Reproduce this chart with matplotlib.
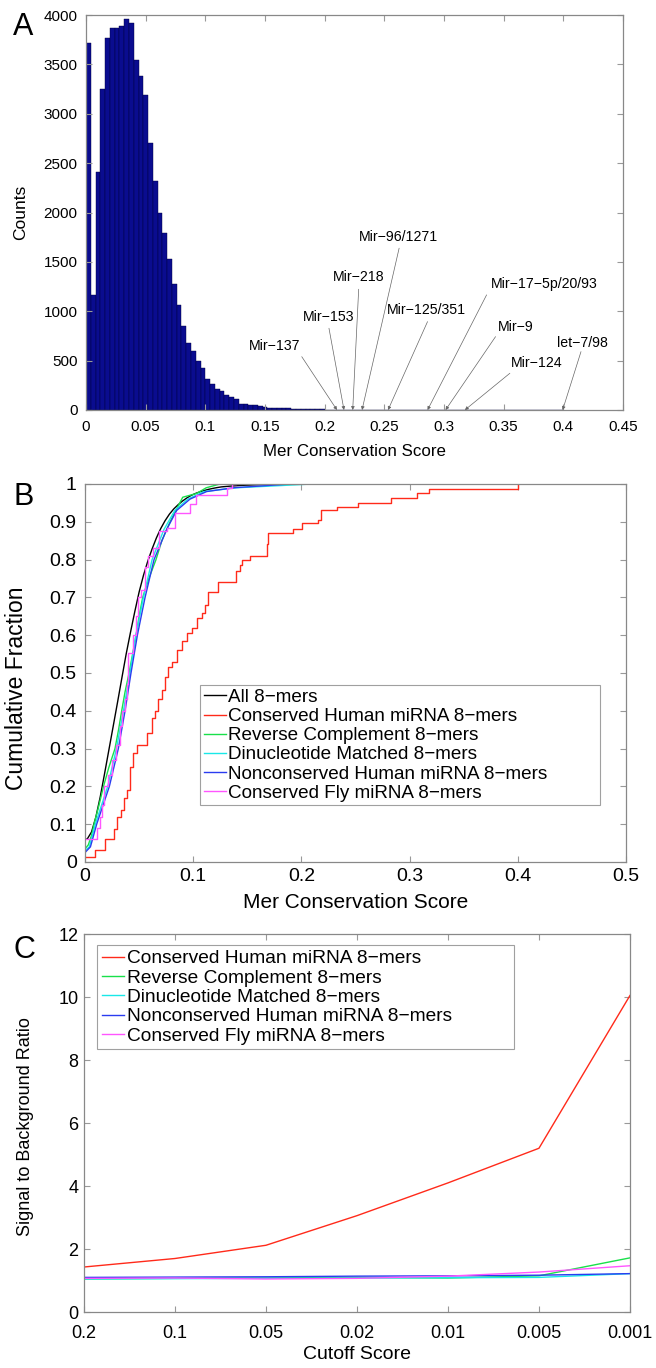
import numpy as np
import matplotlib
matplotlib.use("Agg")
import matplotlib.pyplot as plt

plt.rcParams['font.family'] = ['Liberation Sans', 'DejaVu Sans']

# ---------------- data ----------------
# A: histogram of mer conservation scores (100 bins of width 0.004 over 0-0.4)
hist_counts = [3720, 1160, 2410, 3250, 3770, 3870, 3865, 3890, 3960, 3920,
               3545, 3385, 3190, 2700, 2320, 2000, 1795, 1525, 1272, 1060,
               850, 680, 595, 500, 425, 312, 264, 212, 197, 153,
               136, 115, 62, 60, 47, 47, 41, 28, 24, 24,
               20, 17, 16, 13, 10, 9, 8, 7, 6, 5,
               4, 3, 3, 2, 2, 1, 1, 1, 1, 1,
               1, 0, 1, 1, 0, 1, 0, 0, 1, 0,
               0, 1, 0, 0, 0, 1, 0, 0, 0, 0,
               0, 0, 0, 0, 0, 0, 0, 0, 0, 0,
               0, 0, 0, 0, 0, 0, 0, 0, 0, 1]
bin_width = 0.004

mir_labels = ['Mir\u2212137', 'Mir\u2212153', 'Mir\u2212218', 'Mir\u221296/1271',
              'Mir\u2212125/351', 'Mir\u221217\u22125p/20/93', 'Mir\u22129',
              'Mir\u2212124', 'let\u22127/98']
mir_scores = [0.2103, 0.2162, 0.2235, 0.2313, 0.2531, 0.2862, 0.3013, 0.3175, 0.3994]
mir_text_pos = [(0.1577, 652), (0.2034, 943), (0.2289, 1345), (0.2615, 1757),
                (0.2853, 1014), (0.3841, 1277), (0.3600, 845), (0.3776, 473),
                (0.4160, 676)]
mir_tail_pos = [(0.1808, 540), (0.2036, 828), (0.2285, 1223), (0.2624, 1639),
                (0.2862, 895), (0.3357, 1166), (0.3432, 743), (0.3552, 372),
                (0.4148, 591)]

# B: cumulative fractions
red_x = [0, 0.0092, 0.0185, 0.0268, 0.0293, 0.033, 0.036, 0.0385, 0.0416, 0.0447,
         0.0478, 0.057, 0.0616, 0.0647, 0.0677, 0.0708, 0.0739, 0.077, 0.080, 0.0847,
         0.0893, 0.094, 0.0986, 0.1032, 0.1078, 0.1109, 0.114, 0.1232, 0.140, 0.143,
         0.1448, 0.1525, 0.168, 0.1694, 0.1925, 0.2003, 0.215, 0.218, 0.233, 0.252,
         0.2825, 0.3065, 0.318, 0.400]
red_y = [0.013, 0.031, 0.060, 0.088, 0.12, 0.137, 0.168, 0.19, 0.25, 0.287,
         0.31, 0.34, 0.38, 0.40, 0.43, 0.455, 0.49, 0.515, 0.53, 0.56,
         0.585, 0.605, 0.62, 0.645, 0.66, 0.68, 0.715, 0.74, 0.77, 0.785,
         0.80, 0.81, 0.84, 0.87, 0.88, 0.896, 0.905, 0.93, 0.94, 0.95,
         0.962, 0.975, 0.988, 1.0]

green_x = [0, 0.003, 0.006, 0.0083, 0.012, 0.0171, 0.022, 0.0277, 0.031, 0.0339,
           0.037, 0.0407, 0.044, 0.0472, 0.050, 0.0533, 0.059, 0.0656, 0.071, 0.0755,
           0.0786, 0.084, 0.0903, 0.1032, 0.112, 0.1248, 0.13]
green_y = [0.035, 0.045, 0.07, 0.10, 0.14, 0.20, 0.25, 0.30, 0.35, 0.40,
           0.45, 0.50, 0.55, 0.60, 0.65, 0.70, 0.75, 0.80, 0.85, 0.88,
           0.90, 0.93, 0.965, 0.975, 0.99, 1.0, 1.0]

cyan_x = [0, 0.004, 0.0095, 0.021, 0.029, 0.0355, 0.0415, 0.047, 0.054, 0.062,
          0.073, 0.083, 0.095, 0.11, 0.14, 0.21]
cyan_y = [0.03, 0.04, 0.10, 0.20, 0.30, 0.40, 0.50, 0.60, 0.70, 0.80,
          0.88, 0.93, 0.96, 0.98, 0.99, 1.0]

blue_x = [0, 0.005, 0.0108, 0.0225, 0.0308, 0.037, 0.0425, 0.0484, 0.0555, 0.0638,
          0.0755, 0.0847, 0.097, 0.1124, 0.137, 0.19]
blue_y = [0.025, 0.04, 0.10, 0.20, 0.30, 0.40, 0.50, 0.60, 0.70, 0.80,
          0.88, 0.93, 0.96, 0.98, 0.99, 1.0]

fly_x = [0, 0.011, 0.0139, 0.016, 0.0171, 0.021, 0.025, 0.029, 0.032, 0.0345,
         0.037, 0.0385, 0.040, 0.0445, 0.047, 0.049, 0.052, 0.0555, 0.0586, 0.063,
         0.068, 0.0755, 0.0832, 0.097, 0.103, 0.131, 0.1355, 0.14]
fly_y = [0.06, 0.09, 0.12, 0.15, 0.20, 0.23, 0.27, 0.31, 0.36, 0.40,
         0.43, 0.47, 0.553, 0.60, 0.65, 0.70, 0.72, 0.78, 0.81, 0.83,
         0.875, 0.883, 0.922, 0.948, 0.97, 0.99, 1.0, 1.0]

# C: signal to background ratio
cutoffs = ['0.2', '0.1', '0.05', '0.02', '0.01', '0.005', '0.001']
ratio_human = [1.43, 1.70, 2.12, 3.06, 4.10, 5.20, 10.05]
ratio_revcomp = [1.05, 1.07, 1.08, 1.10, 1.08, 1.15, 1.72]
ratio_dinuc = [1.05, 1.06, 1.07, 1.08, 1.09, 1.10, 1.22]
ratio_noncons = [1.10, 1.11, 1.12, 1.14, 1.15, 1.17, 1.22]
ratio_fly = [1.07, 1.08, 1.05, 1.07, 1.14, 1.27, 1.47]

names = ['Conserved Human miRNA 8\u2212mers', 'Reverse Complement 8\u2212mers',
         'Dinucleotide Matched 8\u2212mers', 'Nonconserved Human miRNA 8\u2212mers',
         'Conserved Fly miRNA 8\u2212mers']
colors = ['#ff2a1a', '#19e04a', '#19e8e8', '#2a3cf0', '#ff55ff']

# ---------------- figure ----------------
fig = plt.figure(figsize=(6.56, 13.68), dpi=100)
axA = fig.add_axes([0.1311, 0.7003, 0.8186, 0.2887])
axB = fig.add_axes([0.1296, 0.3699, 0.8247, 0.2763])
axC = fig.add_axes([0.128, 0.0409, 0.8323, 0.2763])

def style(ax, size, xpad, ypad):
    for s in ax.spines.values():
        s.set_color('#888888')
        s.set_linewidth(0.9)
    ax.tick_params(direction='in', top=True, right=True, length=4,
                   color='#999999', labelsize=size)
    ax.tick_params(axis='x', pad=xpad)
    ax.tick_params(axis='y', pad=ypad)

def legend_style(leg):
    leg.get_frame().set_edgecolor('#888888')
    leg.get_frame().set_linewidth(0.8)

# A
edges = np.arange(len(hist_counts)) * bin_width
axA.bar(edges, hist_counts, width=bin_width, align='edge',
        color='#0a0c8f', edgecolor='#00003c', linewidth=0.3)
for lab, tip, tpos, tail in zip(mir_labels, mir_scores, mir_text_pos, mir_tail_pos):
    axA.annotate('', xy=(tip, 0), xytext=tail,
                 arrowprops=dict(arrowstyle='-|>', color='#666666', lw=0.5,
                                 mutation_scale=5, shrinkA=0, shrinkB=0))
    axA.text(tpos[0], tpos[1], lab, ha='center', va='center', fontsize=10.2)
axA.set_xlim(0, 0.45)
axA.set_ylim(0, 4000)
axA.set_xticks(np.arange(0, 0.451, 0.05))
axA.set_xticklabels(['0', '0.05', '0.1', '0.15', '0.2', '0.25', '0.3', '0.35', '0.4', '0.45'])
axA.set_yticks(np.arange(0, 4001, 500))
style(axA, 11, 7, 6)
axA.set_xlabel('Mer Conservation Score', fontsize=12.2)
axA.xaxis.set_label_coords(0.5, -0.085)
axA.set_ylabel('Counts', fontsize=12.5)
axA.yaxis.set_label_coords(-0.108, 0.5)

# B
counts = np.array(hist_counts, dtype=float)
cdf = np.cumsum(counts) / counts.sum()
bx = np.concatenate([[0], edges + bin_width / 2])
by = np.concatenate([[cdf[0]], cdf])
axB.plot(bx, by, color='black', lw=1.0, label='All 8\u2212mers')
axB.step(red_x, red_y, where='post', color=colors[0], lw=1.0, label=names[0])
axB.plot(green_x, green_y, color=colors[1], lw=1.0, label=names[1])
axB.plot(cyan_x, cyan_y, color=colors[2], lw=1.0, label=names[2])
axB.plot(blue_x, blue_y, color=colors[3], lw=1.0, label=names[3])
axB.step(fly_x, fly_y, where='post', color=colors[4], lw=1.0, label=names[4])
axB.set_xlim(0, 0.5)
axB.set_ylim(0, 1)
axB.set_xticks(np.arange(0, 0.51, 0.1))
axB.set_xticklabels(['0', '0.1', '0.2', '0.3', '0.4', '0.5'])
axB.set_yticks(np.arange(0, 1.01, 0.1))
axB.set_yticklabels(['0', '0.1', '0.2', '0.3', '0.4', '0.5', '0.6', '0.7', '0.8', '0.9', '1'])
style(axB, 14, 4, 6)
axB.set_xlabel('Mer Conservation Score', fontsize=15)
axB.xaxis.set_label_coords(0.5, -0.082)
axB.set_ylabel('Cumulative Fraction', fontsize=16.5)
axB.yaxis.set_label_coords(-0.105, 0.46)
legB = axB.legend(loc='upper left', bbox_to_anchor=(0.2126, 0.0, 0.739, 0.468),
                  mode='expand', borderaxespad=0,
                  fontsize=13.6, frameon=True, fancybox=False, handlelength=1.15,
                  handletextpad=0.15, labelspacing=0.1, borderpad=0.2)
legend_style(legB)

# C
xc = np.arange(len(cutoffs))
for vals, name, col in zip([ratio_human, ratio_revcomp, ratio_dinuc, ratio_noncons, ratio_fly],
                           names, colors):
    axC.plot(xc, vals, color=col, lw=1.0, label=name)
axC.set_xlim(0, len(cutoffs) - 1)
axC.set_ylim(0, 12)
axC.set_xticks(xc)
axC.set_xticklabels(cutoffs)
axC.set_yticks(np.arange(0, 13, 2))
style(axC, 13, 9, 4)
axC.set_xlabel('Cutoff Score', fontsize=14)
axC.xaxis.set_label_coords(0.5, -0.09)
axC.set_ylabel('Signal to Background Ratio', fontsize=13)
axC.yaxis.set_label_coords(-0.092, 0.49)
legC = axC.legend(loc='upper left', bbox_to_anchor=(0.024, 0.0, 0.763, 0.971),
                  mode='expand', borderaxespad=0,
                  fontsize=13.8, frameon=True, fancybox=False, handlelength=1.15,
                  handletextpad=0.15, labelspacing=0.1, borderpad=0.25)
legend_style(legC)

# panel letters
fig.text(0.02, 0.9744, 'A', fontsize=22)
fig.text(0.02, 0.6308, 'B', fontsize=22)
fig.text(0.02, 0.2997, 'C', fontsize=22)

fig.savefig('out.png', dpi=100)
